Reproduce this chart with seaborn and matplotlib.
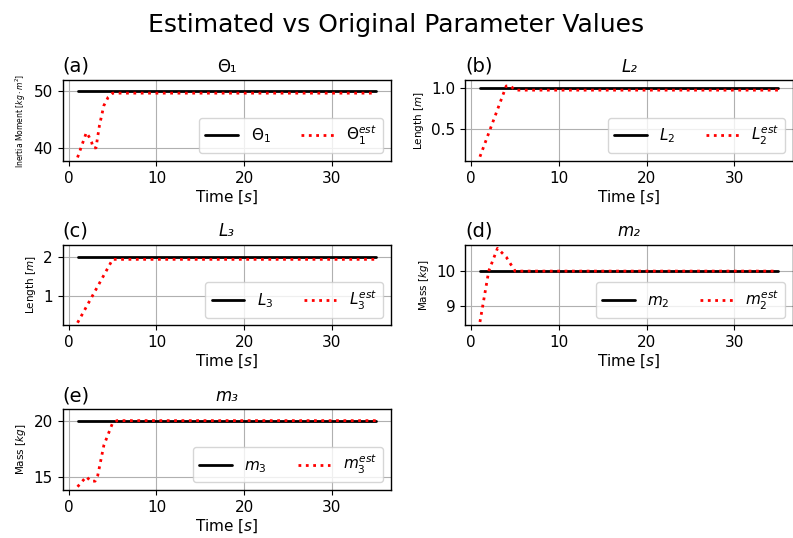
import matplotlib
matplotlib.use("Agg")
import matplotlib.pyplot as plt
import seaborn as sns
import pandas as pd

sns.set_style("ticks", rc={"text.color": "black", "axes.labelcolor": "black",
                           "xtick.color": "black", "ytick.color": "black",
                           "axes.edgecolor": "black"})
plt.rcParams['font.family'] = ['DejaVu Sans']

# ---- data ----
t_theta1 = [1.0, 1.5, 2.0, 2.3, 2.6, 2.8, 3.1, 3.5, 4.0, 4.5, 5.0, 35.0]
est_theta1 = [38.3, 40.5, 42.7, 42.0, 41.0, 40.0, 40.0, 44.0, 47.5, 49.0, 49.7, 49.7]
true_theta1 = 50.0

t_L2 = [1.0, 4.0, 4.5, 5.0, 35.0]
est_L2 = [0.17, 1.02, 1.02, 0.97, 0.97]
true_L2 = 1.0

t_L3 = [1.0, 5.0, 35.0]
est_L3 = [0.32, 1.93, 1.93]
true_L3 = 2.0

t_m2 = [1.0, 2.0, 3.0, 4.0, 5.0, 35.0]
est_m2 = [8.55, 10.0, 10.65, 10.4, 10.0, 10.0]
true_m2 = 10.0

t_m3 = [1.0, 2.0, 2.5, 3.0, 3.3, 4.0, 5.0, 5.5, 35.0]
est_m3 = [14.1, 15.0, 14.6, 14.6, 15.1, 17.8, 19.8, 20.0, 20.0]
true_m3 = 20.0

t_start, t_end = 1.0, 35.0

panels = [
    ("(a)", "Θ₁", "normal", r"$\Theta_1$", r"$\Theta_1^{est}$", r"Inertia Moment [$kg \cdot m^2$]", 5.5,
     t_theta1, est_theta1, true_theta1, (37.7, 52.0), [40, 50]),
    ("(b)", "L₂", "italic", r"$L_2$", r"$L_2^{est}$", r"Length [$m$]", 7.5,
     t_L2, est_L2, true_L2, (0.12, 1.09), [0.5, 1.0]),
    ("(c)", "L₃", "italic", r"$L_3$", r"$L_3^{est}$", r"Length [$m$]", 7.5,
     t_L3, est_L3, true_L3, (0.25, 2.3), [1, 2]),
    ("(d)", "m₂", "italic", r"$m_2$", r"$m_2^{est}$", r"Mass [$kg$]", 7.5,
     t_m2, est_m2, true_m2, (8.45, 10.75), [9, 10]),
    ("(e)", "m₃", "italic", r"$m_3$", r"$m_3^{est}$", r"Mass [$kg$]", 7.5,
     t_m3, est_m3, true_m3, (13.8, 21.0), [15, 20]),
]

fig, axes = plt.subplots(3, 2, figsize=(7.93, 5.38), dpi=100)
fig.subplots_adjust(left=0.079, right=1.0, top=0.851, bottom=0.089,
                    wspace=0.227, hspace=1.04)

for ax, (tag, title, tstyle, lab_true, lab_est, ylab, yfs, tt, ee, tv, ylim, yt) in zip(axes.flat, panels):
    df_true = pd.DataFrame({"t": [t_start, t_end], "v": [tv, tv]})
    df_est = pd.DataFrame({"t": tt, "v": ee})
    sns.lineplot(data=df_true, x="t", y="v", ax=ax, color="black", lw=2, label=lab_true)
    sns.lineplot(data=df_est, x="t", y="v", ax=ax, color="red", lw=2, ls=":", label=lab_est)
    ax.set_ylim(*ylim)
    ax.set_yticks(yt)
    ax.set_xlim(-0.7, 36.7)
    ax.set_xticks([0, 10, 20, 30])
    ax.grid(True, color="#b0b0b0", lw=0.8)
    ax.set_title(title, fontsize=12, style=tstyle)
    ax.set_title(tag, loc="left", fontsize=14)
    ax.set_xlabel(r"Time [$s$]", fontsize=11, labelpad=2)
    ax.set_ylabel(ylab, fontsize=yfs)
    ax.tick_params(labelsize=11, direction="out", length=3.5, color="black")
    for s in ax.spines.values():
        s.set_visible(True)
        s.set_color("black")
        s.set_linewidth(1.0)
    ax.legend(loc="lower right", ncol=2, fontsize=11, framealpha=0.8, handlelength=2.15)

axes[2, 1].remove()
fig.suptitle("Estimated vs Original Parameter Values", fontsize=18, y=0.975)
fig.savefig("out.png", dpi=100)
